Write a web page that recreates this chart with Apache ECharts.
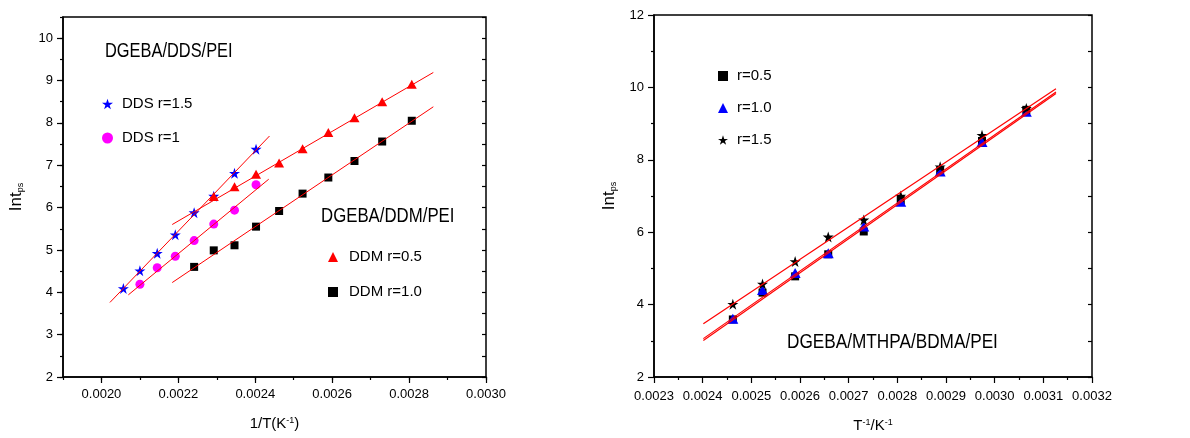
<!DOCTYPE html>
<html>
<head>
<meta charset="utf-8">
<script src="https://cdn.jsdelivr.net/npm/echarts@6/dist/echarts.min.js"></script>
<style>html,body{margin:0;padding:0;background:#fff;}#c{width:1190px;height:438px;}</style>
</head>
<body>
<div id="c"></div>
<script>
// ---------- Left panel data (DGEBA/DDS/PEI and DGEBA/DDM/PEI) ----------
const ddsX15 = [0.002057, 0.002100, 0.002145, 0.002192, 0.002241, 0.002292, 0.002346, 0.002402];
const dds15  = [4.09, 4.51, 4.92, 5.36, 5.88, 6.27, 6.81, 7.38];
const ddsX1  = [0.002100, 0.002145, 0.002192, 0.002241, 0.002292, 0.002346, 0.002402];
const dds1   = [4.19, 4.58, 4.85, 5.22, 5.61, 5.94, 6.54];
const ddmX05 = [0.002292, 0.002346, 0.002402, 0.002462, 0.002523, 0.002590, 0.002658, 0.002730, 0.002807];
const ddm05  = [6.26, 6.49, 6.79, 7.05, 7.39, 7.77, 8.12, 8.50, 8.91];
const ddmX10 = [0.002241, 0.002292, 0.002346, 0.002402, 0.002462, 0.002523, 0.002590, 0.002658, 0.002730, 0.002807];
const ddm10  = [4.60, 4.99, 5.11, 5.55, 5.92, 6.33, 6.71, 7.10, 7.56, 8.05];
// fitted lines (end points)
const fitDDS15 = [[0.002022, 3.76], [0.002437, 7.69]];
const fitDDS1  = [[0.002070, 3.94], [0.002435, 6.67]];
const fitDDM05 = [[0.002184, 5.60], [0.002863, 9.19]];
const fitDDM10 = [[0.002184, 4.23], [0.002863, 8.38]];
const leftXMajor = [0.0020, 0.0022, 0.0024, 0.0026, 0.0028, 0.0030];
const leftYMajor = [2, 3, 4, 5, 6, 7, 8, 9, 10];

// ---------- Right panel data (DGEBA/MTHPA/BDMA/PEI) ----------
const mthX = [0.002462, 0.002523, 0.002590, 0.002658, 0.002731, 0.002807, 0.002888, 0.002974, 0.003065];
const r05  = [3.59, 4.33, 4.78, 5.39, 6.02, 6.89, 7.70, 8.52, 9.38];
const r10  = [3.61, 4.40, 4.87, 5.42, 6.16, 6.84, 7.68, 8.49, 9.33];
const r15  = [4.01, 4.57, 5.19, 5.87, 6.34, 7.00, 7.81, 8.68, 9.42];
const fitR15 = [[0.0024014, 3.47], [0.003126, 9.96]];
const fitR10 = [[0.0024014, 3.06], [0.003126, 9.87]];
const fitR05 = [[0.0024014, 3.01], [0.003126, 9.83]];

const STAR = 'path://M50,0 L61.8,35.1 L98.9,35.1 L68.9,56.7 L80.3,91.9 L50,70 L19.7,91.9 L31.1,56.7 L1.1,35.1 L38.2,35.1 Z';
const FONT = "'Liberation Sans', Arial, sans-serif";
const pts = (xs, ys) => xs.map((x, i) => [x, ys[i]]);

const chart = echarts.init(document.getElementById('c'), null, {renderer: 'canvas'});

const axisLine = {show: true, lineStyle: {color: '#000', width: 1.5}};
const lbl = {fontFamily: FONT, fontSize: 13, color: '#000'};
const tickStyle = {color: '#000', width: 1.2};

function fitLine(name, data, xi, yi, w) {
  return {name, type: 'line', data, xAxisIndex: xi, yAxisIndex: yi, symbol: 'none',
    lineStyle: {color: '#ff0000', width: w || 1}, z: 5, silent: true};
}
function scat(name, xs, ys, xi, yi, symbol, size, color) {
  return {name, type: 'scatter', xAxisIndex: xi, yAxisIndex: yi, data: pts(xs, ys),
    symbol, symbolSize: size, itemStyle: {color, opacity: 1}};
}
const titleStyle = {fontFamily: FONT, fontSize: 15, color: '#000',
  rich: {sup: {fontFamily: FONT, fontSize: 9, verticalAlign: 'top', color: '#000'}}};
const yTitleStyle = {rich: {m: {fontFamily: FONT, fontSize: 17, color: '#000'},
  sub: {fontFamily: FONT, fontSize: 9, verticalAlign: 'bottom', color: '#000'}}};
const legendText = (pad) => ({fontFamily: FONT, fontSize: 15, color: '#000', lineHeight: 20, padding: [0, 0, 0, pad]});

const option = {
  animation: false,
  backgroundColor: '#fff',
  grid: [
    {left: 63, top: 17, width: 423, height: 360, show: true, borderColor: '#000', borderWidth: 1.5, backgroundColor: 'transparent'},
    {left: 654, top: 15, width: 438, height: 368, show: true, borderColor: '#000', borderWidth: 1.5, backgroundColor: 'transparent'}
  ],
  xAxis: [
    {gridIndex: 0, type: 'value', position: 'bottom', min: 0.0019, max: 0.0030, interval: 0.0001,
     axisLine, splitLine: {show: false},
     axisTick: {show: true, length: 3, lineStyle: tickStyle},
     axisLabel: Object.assign({margin: 11, formatter: v => {const k = Math.round(v * 1e4); return (k % 2 === 0) ? (k / 1e4).toFixed(4) : '';}}, lbl),
     name: '1/T(K{sup|-1})', nameLocation: 'middle', nameGap: 39, nameTextStyle: titleStyle},
    {gridIndex: 0, type: 'value', position: 'bottom', min: 0.0019, max: 0.0030,
     axisLine: {show: false}, splitLine: {show: false},
     axisTick: {show: true, length: 6, customValues: leftXMajor, lineStyle: tickStyle},
     axisLabel: {show: false, customValues: leftXMajor}},
    {gridIndex: 1, type: 'value', position: 'bottom', min: 0.0023, max: 0.0032, interval: 0.0001,
     axisLine, splitLine: {show: false},
     axisTick: {show: true, length: 6, lineStyle: tickStyle},
     minorTick: {show: true, splitNumber: 2, length: 3, lineStyle: tickStyle},
     axisLabel: Object.assign({margin: 13, formatter: v => (Math.round(v * 1e4) / 1e4).toFixed(4)}, lbl),
     name: 'T{sup|-1}/K{sup|-1}', nameLocation: 'middle', nameGap: 41, nameTextStyle: titleStyle}
  ],
  yAxis: [
    {gridIndex: 0, type: 'value', position: 'left', min: 2, max: 10.5, interval: 0.5,
     axisLine, splitLine: {show: false},
     axisTick: {show: true, length: 3, lineStyle: tickStyle},
     axisLabel: Object.assign({margin: 10, formatter: v => Number.isInteger(v) ? String(v) : ''}, lbl),
     name: '{m|Int}{sub|ps}', nameLocation: 'middle', nameGap: 38, nameRotate: 90, nameTextStyle: yTitleStyle},
    {gridIndex: 0, type: 'value', position: 'left', min: 2, max: 10.5,
     axisLine: {show: false}, splitLine: {show: false},
     axisTick: {show: true, length: 6, customValues: leftYMajor, lineStyle: tickStyle},
     axisLabel: {show: false, customValues: leftYMajor}},
    {gridIndex: 0, type: 'value', position: 'right', min: 2, max: 10.5, interval: 0.5,
     axisLine: {show: false}, splitLine: {show: false},
     axisTick: {show: true, inside: true, length: 4, lineStyle: tickStyle},
     axisLabel: {show: false}},
    {gridIndex: 1, type: 'value', position: 'left', min: 2, max: 12, interval: 2,
     axisLine, splitLine: {show: false},
     axisTick: {show: true, length: 6, lineStyle: tickStyle},
     minorTick: {show: true, splitNumber: 2, length: 3, lineStyle: tickStyle},
     axisLabel: Object.assign({margin: 10}, lbl),
     name: '{m|Int}{sub|ps}', nameLocation: 'middle', nameGap: 36, nameRotate: 90, nameTextStyle: yTitleStyle},
    {gridIndex: 1, type: 'value', position: 'right', min: 2, max: 12, interval: 1,
     axisLine: {show: false}, splitLine: {show: false},
     axisTick: {show: true, inside: true, length: 4, lineStyle: tickStyle},
     axisLabel: {show: false}}
  ],
  legend: [
    {data: ['DDS r=1.5', 'DDS r=1'], orient: 'vertical', left: 97, top: 89, itemWidth: 11, itemHeight: 11, itemGap: 14,
     textStyle: legendText(4), selectedMode: false},
    {data: ['DDM r=0.5', 'DDM r=1.0'], orient: 'vertical', left: 323, top: 242, itemWidth: 10, itemHeight: 10, itemGap: 15,
     textStyle: legendText(6), selectedMode: false},
    {data: ['r=0.5', 'r=1.0', 'r=1.5'], orient: 'vertical', left: 713, top: 61, itemWidth: 10, itemHeight: 10, itemGap: 12,
     textStyle: legendText(4), selectedMode: false}
  ],
  graphic: [
    {type: 'text', left: 105, top: 41, scaleX: 0.82, style: {text: 'DGEBA/DDS/PEI', font: "20px " + FONT, fill: '#000'}},
    {type: 'text', left: 321, top: 206, scaleX: 0.84, style: {text: 'DGEBA/DDM/PEI', font: "20px " + FONT, fill: '#000'}},
    {type: 'text', left: 787, top: 332, scaleX: 0.86, style: {text: 'DGEBA/MTHPA/BDMA/PEI', font: "20px " + FONT, fill: '#000'}}
  ],
  series: [
    scat('DDS r=1.5', ddsX15, dds15, 0, 0, STAR, 11, '#0000ff'),
    scat('DDS r=1', ddsX1, dds1, 0, 0, 'circle', 9, '#ff00ff'),
    scat('DDM r=0.5', ddmX05, ddm05, 0, 0, 'triangle', [10, 9], '#ff0000'),
    scat('DDM r=1.0', ddmX10, ddm10, 0, 0, 'rect', 8, '#000000'),
    fitLine('fit DDS r=1.5', fitDDS15, 0, 0),
    fitLine('fit DDS r=1', fitDDS1, 0, 0),
    fitLine('fit DDM r=0.5', fitDDM05, 0, 0),
    fitLine('fit DDM r=1.0', fitDDM10, 0, 0),
    scat('r=0.5', mthX, r05, 2, 3, 'rect', 8, '#000000'),
    scat('r=1.0', mthX, r10, 2, 3, 'triangle', [11, 10], '#0000ff'),
    scat('r=1.5', mthX, r15, 2, 3, STAR, 11, '#000000'),
    fitLine('fit r=1.5', fitR15, 2, 3, 1.2),
    fitLine('fit r=1.0', fitR10, 2, 3, 1.2),
    fitLine('fit r=0.5', fitR05, 2, 3, 1.2)
  ]
};
chart.setOption(option);
</script>
</body>
</html>
